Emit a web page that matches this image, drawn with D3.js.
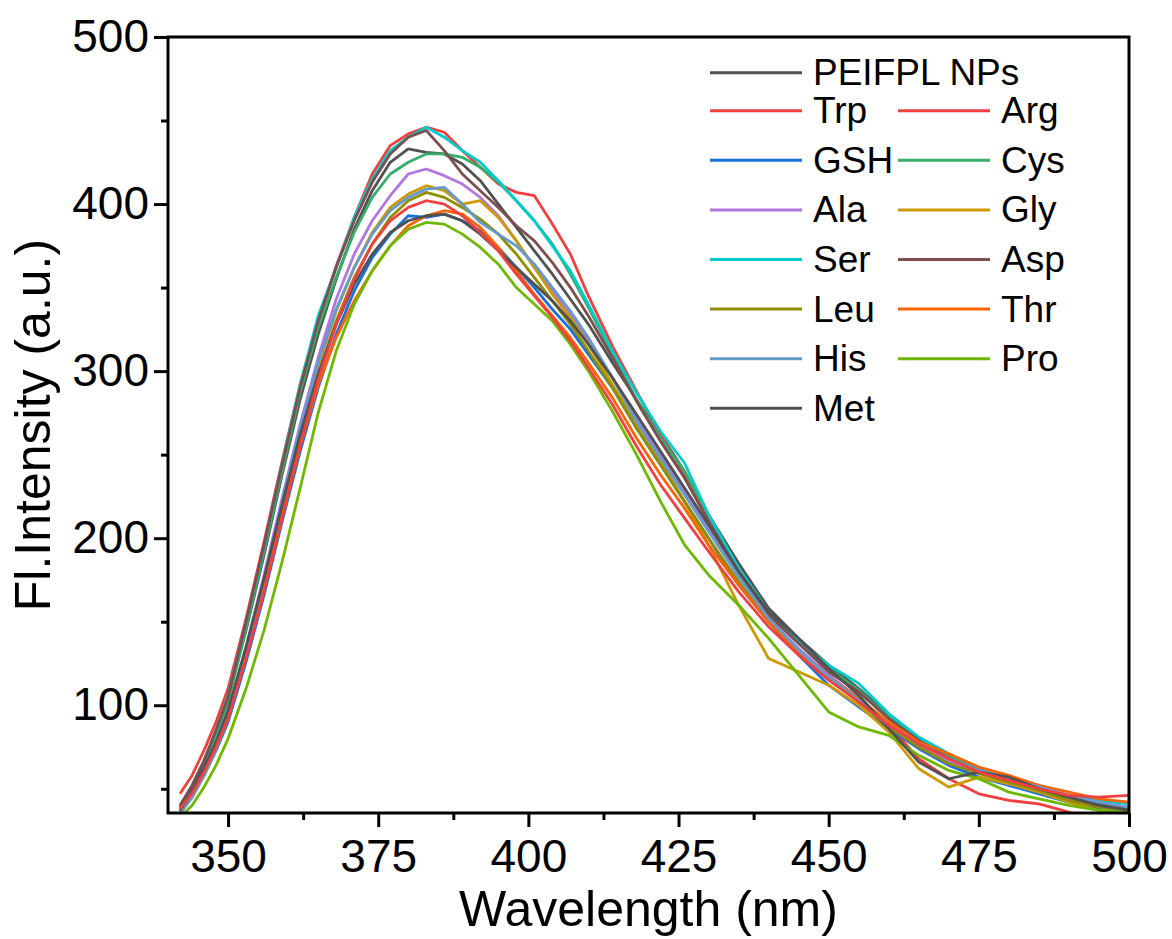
<!DOCTYPE html>
<html>
<head>
<meta charset="utf-8">
<script src="https://cdn.jsdelivr.net/npm/d3@7"></script>
<style>
  body { margin: 0; background: #fff; }
  svg { display: block; font-family: "Liberation Sans", Arial, sans-serif; }
</style>
</head>
<body>
<div id="chart"></div>
<script>
// wavelength grid (nm) shared by all spectra
const wavelength = [342, 344, 346, 348, 350, 353, 356, 359, 362, 365, 368, 371, 374, 377, 380, 383, 386, 389, 392, 395, 398, 401, 404, 407, 410, 414, 418, 422, 426, 430, 435, 440, 445, 450, 455, 460, 465, 470, 475, 480, 485, 490, 495, 500];

// fluorescence intensity (a.u.)
const peifpl = [40, 52, 67, 85, 104, 145, 190, 238, 283, 322, 355, 385, 408, 425, 433, 431, 430, 424, 414, 400, 386, 372, 358, 343, 328, 305, 283, 262, 240, 214, 185, 158, 140, 124, 110, 94, 80, 70, 62, 56, 51, 45, 40, 37];
const trp    = [47, 58, 73, 90, 110, 152, 198, 246, 292, 330, 363, 392, 418, 435, 442, 446, 443, 432, 422, 412, 407, 405, 388, 370, 345, 315, 288, 262, 238, 212, 180, 152, 133, 118, 104, 88, 68, 56, 47, 43, 41, 36, 30, 28];
const gsh    = [36, 45, 58, 73, 90, 126, 166, 210, 252, 290, 322, 348, 368, 382, 393, 392, 394, 390, 384, 374, 362, 350, 337, 325, 310, 290, 266, 244, 222, 200, 172, 150, 130, 112, 99, 86, 74, 64, 57, 52, 47, 42, 38, 35];
const cys    = [37, 49, 64, 82, 102, 146, 192, 240, 287, 326, 356, 383, 404, 418, 425, 430, 430, 428, 422, 413, 402, 390, 376, 358, 338, 310, 283, 260, 240, 214, 182, 156, 137, 122, 109, 93, 80, 70, 61, 55, 50, 44, 40, 38];
const ala    = [36, 46, 60, 76, 95, 135, 178, 224, 268, 308, 343, 370, 390, 405, 418, 421, 417, 412, 404, 393, 378, 362, 348, 334, 318, 296, 272, 250, 228, 206, 178, 152, 134, 118, 104, 88, 76, 66, 60, 54, 49, 44, 40, 37];
const gly    = [36, 46, 59, 75, 93, 132, 174, 220, 264, 303, 336, 362, 383, 398, 406, 411, 408, 400, 402, 392, 378, 362, 346, 332, 316, 292, 268, 246, 222, 196, 160, 128, 120, 112, 100, 84, 62, 51, 57, 53, 48, 42, 37, 35];
const ser    = [38, 50, 66, 84, 106, 150, 195, 245, 292, 333, 362, 392, 415, 432, 440, 446, 440, 432, 425, 414, 402, 390, 375, 360, 340, 312, 287, 264, 245, 214, 182, 156, 138, 124, 113, 95, 81, 71, 62, 56, 50, 46, 43, 41];
const asp    = [39, 51, 66, 85, 105, 150, 196, 244, 290, 330, 362, 390, 413, 430, 440, 444, 432, 418, 408, 398, 387, 378, 365, 350, 333, 308, 282, 258, 236, 210, 180, 154, 137, 120, 108, 92, 79, 68, 61, 55, 50, 45, 41, 38];
const leu    = [35, 45, 58, 74, 92, 130, 172, 217, 260, 298, 330, 356, 376, 392, 402, 407, 404, 398, 391, 382, 370, 356, 342, 328, 312, 290, 266, 244, 222, 200, 174, 150, 132, 116, 102, 87, 75, 65, 59, 54, 49, 43, 39, 36];
const thr    = [37, 47, 60, 76, 94, 130, 170, 213, 255, 292, 320, 342, 360, 375, 387, 393, 396, 394, 386, 374, 360, 346, 333, 320, 305, 284, 260, 238, 218, 196, 172, 150, 132, 117, 104, 90, 78, 71, 63, 58, 52, 48, 44, 42];
const his    = [35, 45, 58, 74, 93, 133, 176, 222, 266, 305, 337, 362, 382, 396, 404, 409, 410, 400, 389, 382, 375, 364, 350, 336, 320, 296, 270, 248, 226, 204, 177, 152, 133, 117, 103, 88, 77, 68, 61, 56, 51, 46, 42, 39];
const pro    = [33, 40, 51, 64, 80, 110, 145, 186, 230, 275, 312, 340, 360, 375, 385, 389, 388, 382, 374, 364, 350, 340, 330, 316, 300, 276, 250, 222, 196, 178, 160, 140, 118, 96, 87, 82, 70, 61, 56, 48, 44, 40, 37, 36];
const met    = [37, 48, 62, 78, 97, 135, 176, 220, 262, 298, 328, 352, 370, 383, 390, 393, 394, 390, 382, 372, 362, 352, 342, 330, 316, 296, 274, 252, 230, 208, 180, 156, 140, 122, 106, 86, 66, 56, 60, 57, 50, 45, 40, 37];
const arg    = [38, 47, 60, 75, 92, 128, 168, 212, 255, 295, 328, 355, 376, 390, 398, 402, 400, 393, 383, 372, 358, 345, 332, 318, 302, 280, 255, 232, 212, 192, 168, 147, 130, 115, 102, 88, 77, 68, 60, 55, 50, 46, 45, 46];

// series in plotting order (later ones drawn on top)
const series = [
  {name: "PEIFPL NPs", values: peifpl, color: "#515151"},
  {name: "Trp", values: trp, color: "#F14040"},
  {name: "GSH", values: gsh, color: "#1A6FDF"},
  {name: "Cys", values: cys, color: "#37AD6B"},
  {name: "Ala", values: ala, color: "#B177DE"},
  {name: "Gly", values: gly, color: "#CC9900"},
  {name: "Ser", values: ser, color: "#00CBCC"},
  {name: "Asp", values: asp, color: "#7D4E4E"},
  {name: "Leu", values: leu, color: "#8E8E00"},
  {name: "Thr", values: thr, color: "#FB6501"},
  {name: "His", values: his, color: "#6699CC"},
  {name: "Pro", values: pro, color: "#6FB802"},
  {name: "Met", values: met, color: "#515151"},
  {name: "Arg", values: arg, color: "#F14040"}
];

// legend layout: first entry alone, then two columns
const legendFirst = "PEIFPL NPs";
const legendCol1 = ["Trp", "GSH", "Ala", "Ser", "Leu", "His", "Met"];
const legendCol2 = ["Arg", "Cys", "Gly", "Asp", "Thr", "Pro"];

const xTicks = [350, 375, 400, 425, 450, 475, 500];
const yTicks = [100, 200, 300, 400, 500];

// dimensions
const width = 1172, height = 939;
const margin = {top: 37, right: 43, bottom: 126, left: 168};
const w = width - margin.left - margin.right,
      h = height - margin.top - margin.bottom;

const svg = d3.select("#chart")
  .append("svg")
    .attr("width", width)
    .attr("height", height);

const g = svg.append("g")
  .attr("transform", `translate(${margin.left},${margin.top})`);

const x = d3.scaleLinear().domain([340, 500]).range([0, w]);
const y = d3.scaleLinear().domain([35.5, 500]).range([h, 0]);

// clip the spectra to the plot frame
g.append("defs").append("clipPath")
    .attr("id", "clip")
  .append("rect")
    .attr("width", w)
    .attr("height", h);

const line = d3.line()
  .x((d, i) => x(wavelength[i]))
  .y(d => y(d));

g.append("g")
    .attr("clip-path", "url(#clip)")
  .selectAll("path")
  .data(series)
  .join("path")
    .attr("fill", "none")
    .attr("stroke", d => d.color)
    .attr("stroke-width", 2.8)
    .attr("stroke-linejoin", "round")
    .attr("d", d => line(d.values));

// minor ticks
const xMinor = d3.range(337.5, 501, 12.5).filter(v => v > 340 && xTicks.indexOf(v) < 0);
const yMinor = d3.range(50, 500, 100);

function styleAxis(sel) {
  sel.select(".domain").remove();
  sel.selectAll("line").attr("stroke", "#000").attr("stroke-width", 3);
  sel.selectAll("text")
    .attr("fill", "#000")
    .attr("font-size", 46)
    .attr("font-family", "Liberation Sans, Arial, sans-serif");
}

g.append("g")
    .attr("transform", `translate(0,${h})`)
    .call(d3.axisBottom(x).tickValues(xTicks).tickSize(14).tickPadding(12).tickFormat(d3.format("d")))
    .call(styleAxis);
g.append("g")
    .attr("transform", `translate(0,${h})`)
    .call(d3.axisBottom(x).tickValues(xMinor).tickSize(7).tickFormat(""))
    .call(styleAxis);

g.append("g")
    .call(d3.axisLeft(y).tickValues(yTicks).tickSize(14).tickPadding(5).tickFormat(d3.format("d")))
    .call(styleAxis);
g.append("g")
    .call(d3.axisLeft(y).tickValues(yMinor).tickSize(7).tickFormat(""))
    .call(styleAxis);

// frame
g.append("rect")
    .attr("width", w)
    .attr("height", h)
    .attr("fill", "none")
    .attr("stroke", "#000")
    .attr("stroke-width", 3);

// axis titles
svg.append("text")
    .attr("x", margin.left + w / 2)
    .attr("y", 926)
    .attr("text-anchor", "middle")
    .attr("font-size", 50)
    .text("Wavelength (nm)");

svg.append("text")
    .attr("transform", `translate(50,${margin.top + h / 2}) rotate(-90)`)
    .attr("text-anchor", "middle")
    .attr("font-size", 50)
    .text("Fl.Intensity (a.u.)");

// legend
const colorOf = name => series.find(s => s.name === name).color;
const legend = svg.append("g");
const rowH = 49.6, firstY = 72.7, row1Y = 110.7;
const entries = [{name: legendFirst, lx: 710, ly: firstY}]
  .concat(legendCol1.map((n, i) => ({name: n, lx: 710, ly: row1Y + i * rowH})))
  .concat(legendCol2.map((n, i) => ({name: n, lx: 898, ly: row1Y + i * rowH})));

const item = legend.selectAll("g")
  .data(entries)
  .join("g");
item.append("line")
    .attr("x1", d => d.lx)
    .attr("x2", d => d.lx + 92)
    .attr("y1", d => d.ly)
    .attr("y2", d => d.ly)
    .attr("stroke", d => colorOf(d.name))
    .attr("stroke-width", 3);
item.append("text")
    .attr("x", d => d.lx + 103)
    .attr("y", d => d.ly + 12.5)
    .attr("font-size", 37)
    .text(d => d.name);
</script>
</body>
</html>
